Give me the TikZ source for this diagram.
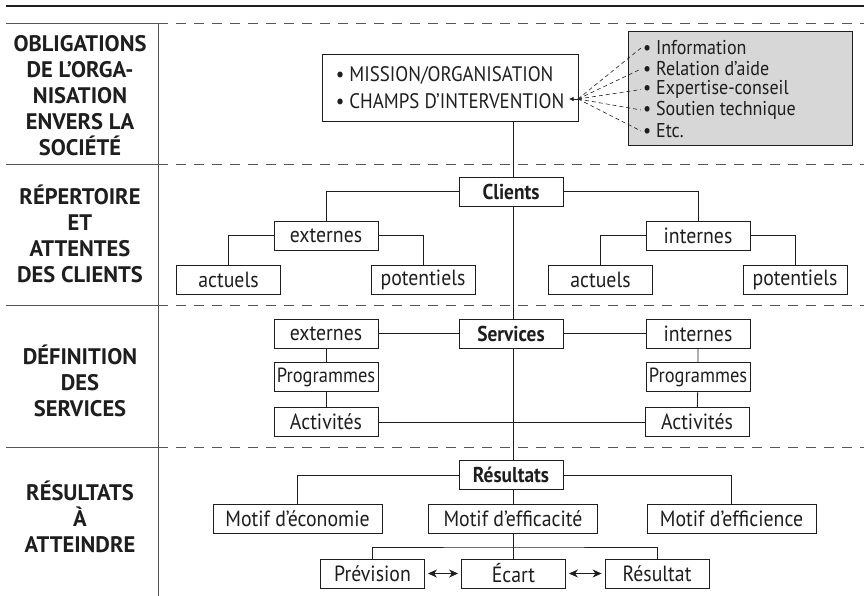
\documentclass[tikz,border=0pt]{standalone}
\usepackage{fontspec}
\setmainfont{PT Sans}[FakeStretch=0.9]
\newfontfamily\titlefont{PT Sans}
\usetikzlibrary{arrows.meta}
\definecolor{ink}{HTML}{1E1E1E}
\definecolor{rule}{HTML}{555555}
\definecolor{panel}{HTML}{D7D7D7}
\begin{document}
\begin{tikzpicture}[x=1pt,y=-1pt,
  box/.style={draw=ink, line width=0.9pt, minimum width=104pt, minimum height=29pt,
              inner sep=0pt, font=\fontsize{22}{23}\selectfont, text=ink},
  tight/.style={box, font=\fontsize{20.5}{23}\selectfont},
  hub/.style={box, font=\fontsize{21.5}{23}\selectfont\bfseries},
  wide/.style={box, minimum width=169pt},
  link/.style={draw=ink, line width=0.8pt},
  seclabel/.style={align=center, font=\titlefont\fontsize{22.5}{26}\selectfont\bfseries, text=ink},
  item/.style={anchor=west, inner sep=0pt, font=\fontsize{20}{21}\selectfont, text=ink},
  divider/.style={draw=rule, line width=0.9pt},
  dividerdash/.style={draw=rule, line width=0.9pt, dash pattern=on 10pt off 8pt},
  twohead/.style={{Stealth[length=9pt,width=8pt]}-{Stealth[length=9pt,width=8pt]}},
]
\useasboundingbox (0,0) rectangle (864,596);

% frame: heavy top rule, section dividers, column separator
\draw[ink, line width=2.6pt] (6,6) -- (864,6);
\foreach \yy in {23,164,305,447} {
  \draw[divider] (6,\yy) -- (158,\yy);
  \draw[dividerdash] (158,\yy) -- (864,\yy);
}
\draw[rule, line width=1pt] (158,23) -- (158,596);

% section titles
\node[seclabel] (t1) at (80,96) {OBLIGATIONS\\DE L’ORGA-\\NISATION\\ENVERS LA\\SOCIÉTÉ};
\node[seclabel] (t2) at (80,234) {RÉPERTOIRE\\ET\\ATTENTES\\DES CLIENTS};
\node[seclabel] (t3) at (80,381) {DÉFINITION\\DES\\SERVICES};
\node[seclabel] (t4) at (80,517) {RÉSULTATS\\À\\ATTEINDRE};

% mission and fields of intervention
\node[box, minimum width=256pt, minimum height=67pt, align=left,
      font=\fontsize{21}{27}\selectfont] (mission) at (450,87.5)
  {• MISSION/ORGANISATION\\• CHAMPS D’INTERVENTION};
\node[draw=ink, fill=panel, line width=0.9pt, minimum width=224pt, minimum height=114pt,
      inner sep=0pt] (panel) at (740,88) {};
\node[item] (i1) at (643,48) {• Information};
\node[item] (i2) at (643,69) {• Relation d’aide};
\node[item] (i3) at (643,89.5) {• Expertise-conseil};
\node[item] (i4) at (643,110) {• Soutien technique};
\node[item] (i5) at (643,131) {• Etc.};
\coordinate (fan) at (578,99);
\coordinate (tip) at (569,99);
\draw[ink, line width=0.6pt, -{Latex[length=4.5pt,width=4.5pt]}] (fan) -- (tip);
\foreach \i in {i1,i2,i3,i4,i5}
  \draw[ink, line width=0.6pt, dash pattern=on 4pt off 3pt] (fan) -- ([xshift=-2pt]\i.west);

% clients
\node[hub] (clients) at (511,191.5) {Clients};
\node[box] (extC) at (326,235.5) {externes};
\node[box] (intC) at (698,235.5) {internes};
\node[box] (actE) at (228.5,280) {actuels};
\node[box] (potE) at (423,280) {potentiels};
\node[box] (actI) at (600.5,280) {actuels};
\node[box] (potI) at (795,280) {potentiels};

% services
\node[hub] (services) at (511,333.5) {Services};
\node[box] (extS) at (326,333.5) {externes};
\node[tight] (progE) at (326,377) {Programmes};
\node[box] (actvE) at (326,422) {Activités};
\node[box] (intS) at (698,333.5) {internes};
\node[tight] (progI) at (698,377) {Programmes};
\node[box] (actvI) at (697,422) {Activités};

% results
\node[hub] (resultats) at (511,475) {Résultats};
\node[wide] (mEco) at (297.5,519) {Motif d’économie};
\node[wide] (mEffic) at (513,519) {Motif d’efficacité};
\node[wide] (mEffi) at (731.5,519) {Motif d’efficience};
\node[box] (prev) at (372.5,573.5) {Prévision};
\node[box] (ecart) at (513.5,573.5) {Écart};
\node[box] (resu) at (657,573.5) {Résultat};

% trunk
\draw[link] (clients.north -| mEffic.north) |- (mission.south -| mEffic.north);
\draw[link] (clients.south -| mEffic.north) -- (services.north -| mEffic.north);
\draw[link] (services.south -| mEffic.north) -- (resultats.north -| mEffic.north);
\draw[link] (resultats.south -| mEffic.north) -- (mEffic.north);
\draw[link] (mEffic.south) -- (ecart.north -| mEffic.south);

% client branches
\draw[link] (clients.west) -| (extC.north);
\draw[link] (clients.east) -| (intC.north);
\draw[link] (extC.west) -| (actE.north);
\draw[link] (extC.east) -| (potE.north);
\draw[link] (intC.west) -| (actI.north);
\draw[link] (intC.east) -| (potI.north);

% service branches
\draw[link] (extS.east) -- (services.west);
\draw[link] (services.east) -- (intS.west);
\draw[link] (extS) -- (progE) -- (actvE);
\draw[link] (intS) -- (progI) -- (actvI);
\draw[link] (actvE.east) -- (actvI.west);

% result branches
\draw[link] (resultats.west) -| (mEco.north);
\draw[link] (resultats.east) -| (mEffi.north);
\coordinate (split) at (513,547);
\draw[link] (prev.north) |- (split) -| (resu.north);
\draw[link, twohead] ([xshift=3pt]prev.east) -- ([xshift=-3pt]ecart.west);
\draw[link, twohead] ([xshift=3pt]ecart.east) -- ([xshift=-3pt]resu.west);
\end{tikzpicture}
\end{document}
